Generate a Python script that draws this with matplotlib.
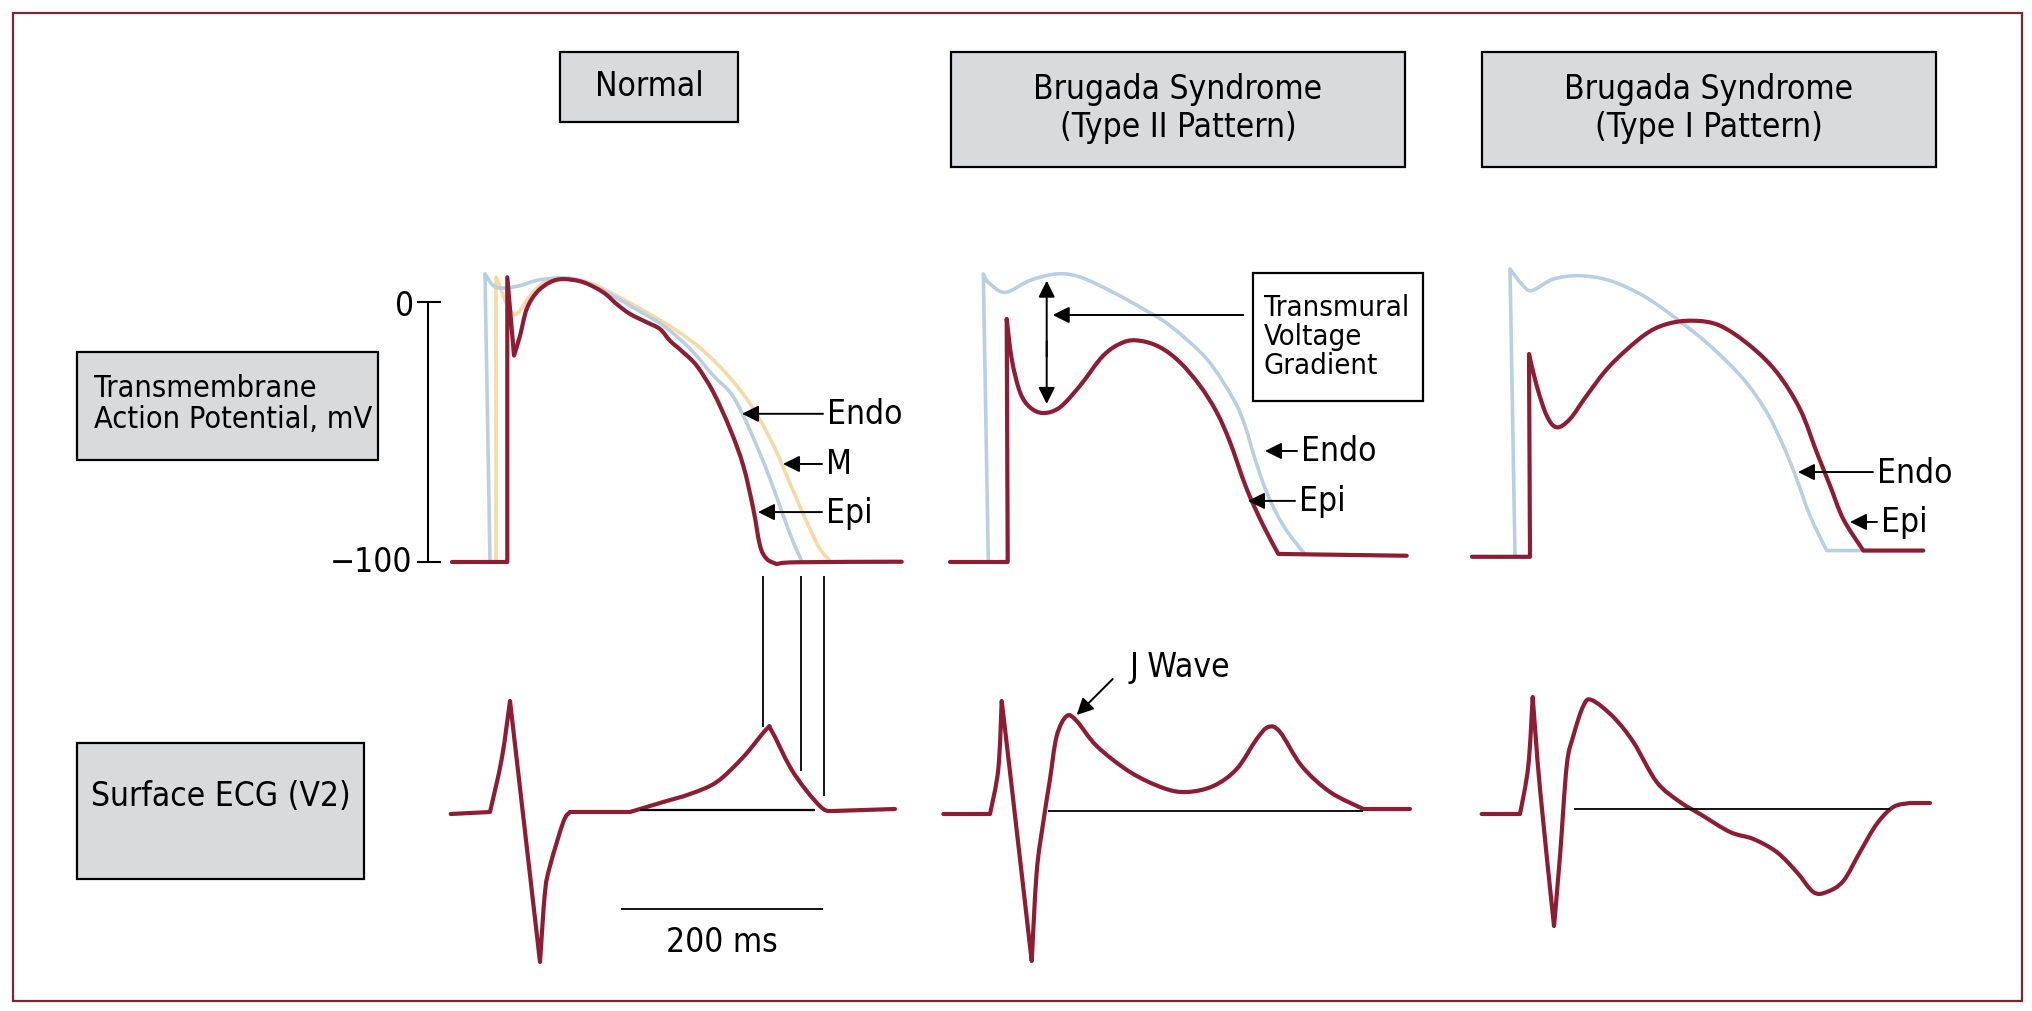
import matplotlib
matplotlib.use("Agg")
import numpy as np
import matplotlib.pyplot as plt
from matplotlib.patches import Rectangle, PathPatch
from matplotlib.path import Path

plt.rcParams['font.family'] = ['Liberation Sans Narrow', 'DejaVu Sans']
plt.rcParams['font.stretch'] = 'condensed'

W, H = 2033, 1012
RED = '#8c1d33'
BLUE = '#b9cfe3'
ORANGE = '#f7d9a7'
GRAY = '#d9dadc'
FS = 24

# ---- action potentials (t in ms, v in mV) ----
normal_epi_t = [0, 55.3, 55.3, 62, 68, 74.7, 84.7, 98, 111.3, 131.3, 151.3, 164.7, 178, 194.7, 208, 218,
                231.3, 244.7, 261.3, 278, 291.3, 301.3, 308, 314.7, 324.7, 344.7, 449.7]
normal_epi_v = [-100, -100, 9.5, -20.6, -13, -2.7, 3.7, 7.6, 8.8, 7.6, 3.7, -0.8, -4.6, -7.8, -10.4, -14.9,
                -19.4, -24.5, -34.7, -48.8, -63, -79.6, -93.7, -98.8, -100.8, -100.1, -99.9]
normal_endo_t = [38, 33, 41.3, 51.3, 68, 84.7, 104.7, 124.7, 151.3, 178, 211.3, 238, 261.3, 278, 289.7,
                 304.7, 318, 331.3, 341.3, 349.7]
normal_endo_v = [-100, 10.8, 6.3, 5.3, 6.3, 8.3, 9.2, 8.7, 4.4, -1.4, -9.1, -18, -28.3, -34.7, -42.4,
                 -55.3, -68, -82.2, -92.4, -99.5]
normal_m_t = [44, 44, 61.3, 78, 91.3, 111.3, 138, 164.7, 194.7, 224.7, 251.3, 274.7, 294.7, 311.3, 324.7,
              334.7, 344.7, 358, 368, 378]
normal_m_v = [-100, 9.6, -4.6, 2.4, 7.3, 9.2, 7.3, 2.4, -4, -11, -18.7, -27.7, -37.3, -47.6, -57.8,
              -66.8, -75.8, -87.3, -95, -99.5]

t2_endo_t = [38.3, 33.3, 38.3, 55, 80, 106.7, 130, 163.3, 193.3, 220, 256.7, 283.3, 295, 305, 316.7,
             333.3, 353.3]
t2_endo_v = [-99.5, 10.8, 7.6, 3.7, 8.3, 10.8, 9.6, 3.7, -2.7, -9.1, -21.9, -37.3, -47.6, -60.4, -73.2,
             -86, -96.3]
t2_epi_t = [0, 57.7, 56.7, 61.7, 70, 80, 93.3, 110, 130, 153.3, 173.3, 190, 210, 230, 250, 266.7, 280,
            296.7, 313.3, 328.3, 456.7]
t2_epi_v = [-100, -100, -6.5, -21.9, -34.7, -40.5, -42.7, -40.5, -32.2, -20.6, -15.5, -14.9, -17.4, -23.2,
            -32.2, -42.4, -53.9, -71.9, -86, -96.9, -97.6]

t1_endo_t = [43, 38, 49.7, 59.7, 81.3, 108, 138, 171.3, 204.7, 238, 271.3, 294.7, 311.3, 324.7, 338,
             354.7, 391.3]
t1_endo_v = [-97.6, 12.7, 6.9, 4.4, 8.8, 10.1, 8.2, 2.4, -6.5, -16.8, -29.6, -42.4, -55.3, -68.1, -82.2,
             -95.6, -95.6]
t1_epi_t = [0, 58, 57, 64.7, 74.7, 84.7, 98, 114.7, 138, 171.3, 194.7, 221.3, 248, 278, 304.7, 328,
            344.7, 358, 371.3, 391.3, 451.3]
t1_epi_v = [-98, -98, -20, -32.2, -43.7, -48.2, -45, -36, -24.5, -13, -8.5, -7.2, -9.1, -16.8, -27,
            -41.2, -57.8, -70.6, -83.5, -95.6, -95.6]

# ---- surface ECG (t in ms, arbitrary amplitude) ----
normal_ecg_t = [-1.3, 38, 49.7, 58, 88, 93, 98, 111.3, 118, 178, 211.3, 238, 264.7, 291.3, 314.7, 319.7,
                338, 354.7, 371.3, 381.3, 443]
normal_ecg_v = [-0.02, 0, 0.53, 1.11, -1.5, -0.8, -0.54, -0.1, 0, 0, 0.1, 0.18, 0.3, 0.55, 0.83, 0.81,
                0.45, 0.21, 0.03, 0.01, 0.03]
t2_ecg_t = [-6.7, 40, 48.3, 51.7, 60, 81.7, 86.7, 93.3, 100, 106.7, 116.7, 126.7, 146.7, 180, 213.3,
            236.7, 263.3, 286.7, 306.7, 318.3, 330, 351.7, 380, 413.3, 460]
t2_ecg_v = [-0.02, -0.02, 0.43, 1.11, 0.4, -1.49, -0.6, -0.1, 0.33, 0.76, 0.96, 0.91, 0.66, 0.4, 0.24,
            0.2, 0.26, 0.43, 0.73, 0.85, 0.8, 0.46, 0.2, 0.03, 0.03]
t1_ecg_t = [9.7, 48, 56.3, 60.7, 68, 82, 88, 94.7, 101.3, 111.3, 119.7, 141.3, 161.3, 184.7, 208, 228,
            258, 281.3, 304.7, 324.7, 341.3, 354.7, 371.3, 388, 404.7, 421.3, 438, 458]
t1_ecg_v = [-0.02, -0.02, 0.46, 1.15, 0.23, -1.14, -0.44, 0.46, 0.76, 1.06, 1.12, 0.95, 0.7, 0.3, 0.1,
            -0.02, -0.2, -0.27, -0.4, -0.6, -0.8, -0.8, -0.69, -0.4, -0.12, 0.05, 0.09, 0.09]

# isoelectric reference lines (start, end, level)
normal_iso = (188, 363, 0.02)
t2_iso = (98.3, 413.3, 0.01)
t1_iso = (102, 418, 0.03)

# repolarization end markers in the normal panel
repol_t = [311, 349, 372]
repol_end = [0.85, 0.41, 0.16]
repol_top = 2.36

panel_x0 = [452, 950, 1472]
titles = ['Normal', 'Brugada Syndrome\n(Type II Pattern)', 'Brugada Syndrome\n(Type I Pattern)']

fig = plt.figure(figsize=(W / 100, H / 100), dpi=100)
bg = fig.add_axes([0, 0, 1, 1])
bg.set_xlim(0, W)
bg.set_ylim(H, 0)
bg.axis('off')


def px_axes(x0, tlim, y_of_vmax, y_of_vmin, vlim):
    left = (x0 + tlim[0]) / W
    right = (x0 + tlim[1]) / W
    ax = fig.add_axes([left, 1 - y_of_vmin / H, right - left, (y_of_vmin - y_of_vmax) / H])
    ax.set_xlim(*tlim)
    ax.set_ylim(vlim[0], vlim[1])
    ax.axis('off')
    return ax


def ap_axes(x0):
    # 0 mV at y=303 px, -100 mV at y=563 px
    return px_axes(x0, (-60, 520), 303 - 20 * 2.6, 563 + 20 * 2.6, (-120, 20))


def ecg_axes(x0):
    # baseline at y=813 px, 100 px per unit
    return px_axes(x0, (-60, 520), 813 - 250, 813 + 170, (-1.7, 2.5))


def trace(ax, t, v, corners, color, lw):
    """Draw a trace as a smooth curve through the points, kept sharp at the corner indices."""
    pts = np.column_stack([t, v])
    cuts = sorted(set([0, len(pts) - 1] + corners))
    verts, codes = [], []
    for a, b in zip(cuts[:-1], cuts[1:]):
        seg = pts[a:b + 1]
        if not verts:
            verts.append(seg[0])
            codes.append(Path.MOVETO)
        if len(seg) == 2:
            verts.append(seg[1])
            codes.append(Path.LINETO)
            continue
        n = len(seg)
        for i in range(n - 1):
            p0 = seg[i - 1] if i > 0 else seg[i]
            p1, p2 = seg[i], seg[i + 1]
            p3 = seg[i + 2] if i + 2 < n else seg[i + 1]
            verts += [p1 + (p2 - p0) / 6, p2 - (p3 - p1) / 6, p2]
            codes += [Path.CURVE4] * 3
    ax.add_patch(PathPatch(Path(verts, codes), fill=False, edgecolor=color, lw=lw,
                           joinstyle='round', capstyle='round'))


def arrow(ax, tail, tip, style='-|>'):
    ax.annotate('', xy=tip, xytext=tail,
                arrowprops=dict(arrowstyle=style, color='k', lw=1.4, mutation_scale=25,
                                shrinkA=0, shrinkB=0), annotation_clip=False)


def label(ax, tail, tip, text):
    arrow(ax, tail, tip)
    ax.text(tail[0] + 4, tail[1], text, fontsize=FS, va='center', ha='left')


# frame
bg.add_patch(Rectangle((13, 14), 2009, 988, fill=False, edgecolor='#7d2535', lw=1.6))

# header boxes
boxes = [(560, 53, 178, 70), (951, 53, 454, 115), (1482, 53, 454, 115)]
for (bx, by, bw, bh), title in zip(boxes, titles):
    bg.add_patch(Rectangle((bx, by), bw, bh, facecolor=GRAY, edgecolor='k', lw=1.6))
    bg.text(bx + bw / 2, by + bh / 2 - 2, title, ha='center', va='center', fontsize=FS, linespacing=1.2)

# row labels
bg.add_patch(Rectangle((77, 353), 301, 108, facecolor=GRAY, edgecolor='k', lw=1.6))
bg.text(94, 404, 'Transmembrane\nAction Potential, mV', ha='left', va='center', fontsize=22,
        linespacing=1.05)
bg.add_patch(Rectangle((77, 744), 287, 136, facecolor=GRAY, edgecolor='k', lw=1.6))
bg.text(221, 797, 'Surface ECG (V2)', ha='center', va='center', fontsize=FS)

# ---------------- Normal ----------------
ap = ap_axes(panel_x0[0])
trace(ap, normal_m_t, normal_m_v, [1], ORANGE, 2.6)
trace(ap, normal_endo_t, normal_endo_v, [1], BLUE, 2.6)
trace(ap, normal_epi_t, normal_epi_v, [1, 2, 3, 24], RED, 3.0)
ap.vlines(-24, -100, 0, color='k', lw=1.5)
ap.hlines([0, -100], -35, -11, color='k', lw=1.5)
ap.text(-47, -1.5, '0', fontsize=FS, ha='center', va='center')
ap.text(-40, -100, '\u2212100', fontsize=FS, ha='right', va='center')
label(ap, (371, -43), (290, -43), 'Endo')
label(ap, (370, -62.3), (331, -62.3), 'M')
label(ap, (370, -80.8), (306, -80.8), 'Epi')

ecg = ecg_axes(panel_x0[0])
ecg.hlines(normal_iso[2], normal_iso[0], normal_iso[1], color='k', lw=1.6)
trace(ecg, normal_ecg_t, normal_ecg_v, [1, 3, 4, 8, 9, 19], RED, 3.0)
ecg.vlines(repol_t, repol_end, repol_top, color='k', lw=1.3, clip_on=False)
ecg.hlines(-0.97, 169, 371, color='k', lw=1.3)
ecg.text(270, -1.30, '200 ms', fontsize=FS, ha='center', va='center')

# ---------------- Brugada type II ----------------
ap = ap_axes(panel_x0[1])
trace(ap, t2_endo_t, t2_endo_v, [1], BLUE, 2.6)
trace(ap, t2_epi_t, t2_epi_v, [1, 2, 19], RED, 3.0)
arrow(ap, (96.7, -21), (96.7, 8.2))
arrow(ap, (96.7, -15), (96.7, -39.2))
arrow(ap, (293.3, -5), (102.7, -5))
label(ap, (347, -57.3), (315, -57.3), 'Endo')
label(ap, (345, -76.5), (298, -76.5), 'Epi')
bg.add_patch(Rectangle((1253, 274), 170, 128, facecolor='white', edgecolor='k', lw=1.6, zorder=3))
bg.text(1264, 337, 'Transmural\nVoltage\nGradient', ha='left', va='center', fontsize=21,
        linespacing=1.05, zorder=4)

ecg = ecg_axes(panel_x0[1])
ecg.hlines(t2_iso[2], t2_iso[0], t2_iso[1], color='k', lw=1.3)
trace(ecg, t2_ecg_t, t2_ecg_v, [1, 3, 5, 23], RED, 3.0)
arrow(ecg, (162.7, 1.33), (126.7, 0.97))
ecg.text(180, 1.45, 'J Wave', fontsize=FS, ha='left', va='center')

# ---------------- Brugada type I ----------------
ap = ap_axes(panel_x0[2])
trace(ap, t1_endo_t, t1_endo_v, [1, 15], BLUE, 2.6)
trace(ap, t1_epi_t, t1_epi_v, [1, 2, 19], RED, 3.0)
label(ap, (401, -65.4), (326, -65.4), 'Endo')
label(ap, (405, -84.6), (378, -84.6), 'Epi')

ecg = ecg_axes(panel_x0[2])
ecg.hlines(t1_iso[2], t1_iso[0], t1_iso[1], color='k', lw=1.3)
trace(ecg, t1_ecg_t, t1_ecg_v, [1, 3, 5, 26], RED, 3.0)

fig.savefig('out.png', dpi=100)
